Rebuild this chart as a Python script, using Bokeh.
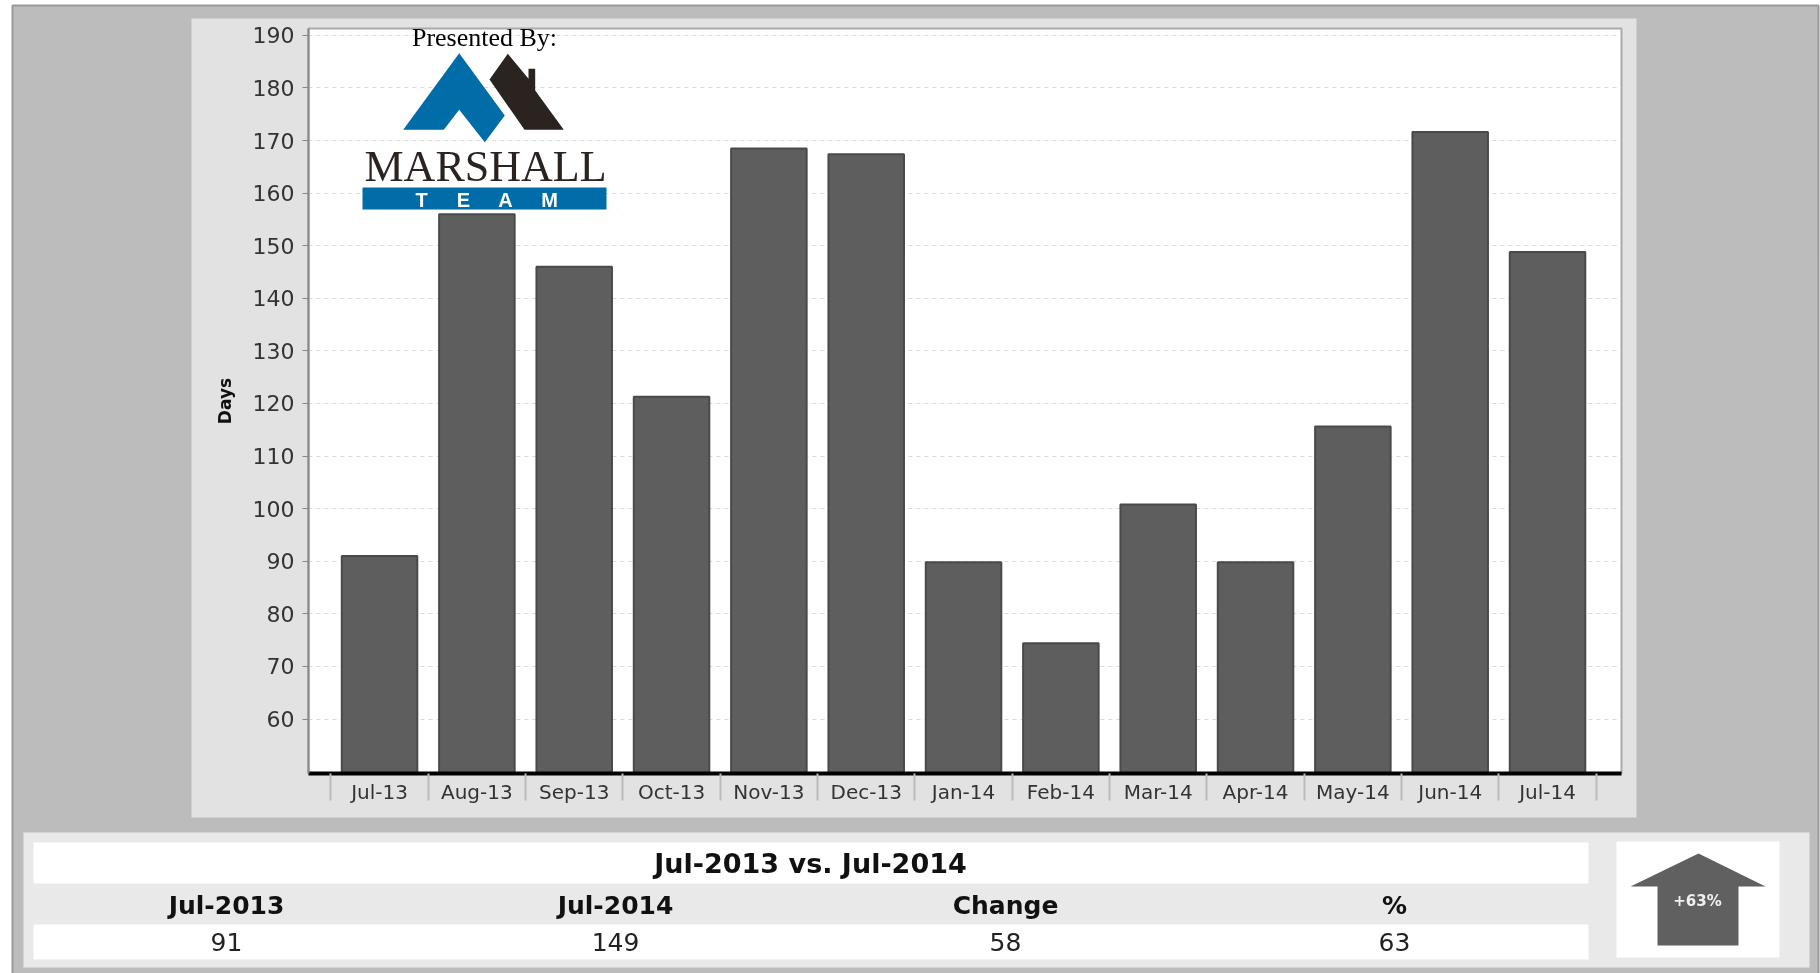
from bokeh.plotting import figure
from bokeh.models import BoxAnnotation, Label, PolyAnnotation, FixedTicker, Range1d
from bokeh.embed import file_html
from bokeh.resources import INLINE

# ---------- data ----------
months = ["Jul-13", "Aug-13", "Sep-13", "Oct-13", "Nov-13", "Dec-13", "Jan-14",
          "Feb-14", "Mar-14", "Apr-14", "May-14", "Jun-14", "Jul-14"]
days = [91, 156, 146, 121.3, 168.5, 167.4, 89.8, 74.4, 100.8, 89.8, 115.6, 171.6, 148.8]
y_ticks = [60, 70, 80, 90, 100, 110, 120, 130, 140, 150, 160, 170, 180, 190]
table_title = "Jul-2013 vs. Jul-2014"
table_headers = ["Jul-2013", "Jul-2014", "Change", "%"]
table_values = ["91", "149", "58", "63"]
badge = "+63%"

W, H = 1820, 973
PX_L, PX_R, PX_T, PX_B = 308, 1621, 28, 773   # plot frame in page pixels
SANS = "DejaVu Sans"
SERIF = "Liberation Serif"
FIXED = {"position": "fixed", "left": "0px", "top": "0px"}

# ---------- back layer: page panels, table and badge, in page pixels ----------
bg = figure(width=W, height=H, output_backend="svg", toolbar_location=None,
            x_range=Range1d(0, W), y_range=Range1d(H, 0),
            x_axis_location=None, y_axis_location=None,
            min_border=0, outline_line_color=None,
            background_fill_color="#ffffff", border_fill_color="#ffffff")
bg.grid.visible = False
bg.styles = dict(FIXED)


def bg_box(l, t, r, b, fill, line=None, lw=1):
    bg.quad(left=[l], right=[r], top=[t], bottom=[b], fill_color=fill,
            line_color=line, line_width=lw)


def bg_text(x, y, s, size, color="#111111", style="normal"):
    bg.add_layout(Label(x=x, y=y, text=s, text_font=SANS,
                        text_font_size=f"{size}px", text_font_style=style,
                        text_color=color, text_align="center",
                        text_baseline="middle"))


bg_box(12, 5, 1818, 975, "#bcbcbc", "#999999", 2)
bg_box(191, 18, 1636, 817, "#e2e2e2")
bg_box(PX_L, PX_T, PX_R, PX_B, "#ffffff")
bg_box(23, 832, 1809, 967, "#e9e9e9")
bg_box(33, 842, 1588, 883, "#ffffff")
bg_box(33, 924, 1588, 959, "#ffffff")
bg_box(1616, 841, 1779, 957, "#ffffff")

bg_text(810, 863, table_title, 27, style="bold")
for cx, head, val in zip([226, 615, 1005, 1394], table_headers, table_values):
    bg_text(cx, 905, head, 25, style="bold")
    bg_text(cx, 941, val, 25, "#222222")

bg.patch(x=[1698, 1630, 1657, 1657, 1738, 1738, 1765],
         y=[853, 886, 886, 945, 945, 886, 886], fill_color="#606060", line_color=None)
bg_text(1697, 900, badge, 15, "#f0f0f0", "bold")

# ---------- chart layer ----------
positions = list(range(len(months)))
p = figure(width=W, height=H, output_backend="svg", toolbar_location=None,
           x_range=Range1d(-0.73, 12.76), y_range=Range1d(49.64, 191.3),
           min_border_left=PX_L, min_border_right=W - PX_R,
           min_border_top=PX_T, min_border_bottom=H - PX_B,
           background_fill_color=None, border_fill_color=None,
           outline_line_color="#aaaaaa", outline_line_width=2)
p.styles = dict(FIXED)


# screen units here run from the frame's lower-left corner, y upwards
def sx(x):
    return x - PX_L


def sy(y):
    return PX_B - y


def text(x, y, s, size, color, font, style="normal"):
    p.add_layout(Label(x=sx(x), y=sy(y), x_units="screen", y_units="screen", text=s,
                       text_font=font, text_font_size=f"{size}px",
                       text_font_style=style, text_color=color,
                       text_align="center", text_baseline="middle"))


def poly(pts, color):
    p.add_layout(PolyAnnotation(xs=[sx(a) for a, _ in pts], ys=[sy(b) for _, b in pts],
                                xs_units="screen", ys_units="screen",
                                fill_color=color, fill_alpha=1, line_color=None))


# bars
p.vbar(x=positions, top=days, width=0.776, bottom=0,
       fill_color="#5e5e5e", line_color="#4a4a4a", line_width=2)

# grid
p.xgrid.visible = False
p.ygrid.ticker = FixedTicker(ticks=y_ticks)
p.ygrid.grid_line_color = "#d8d8d8"
p.ygrid.grid_line_dash = "4 4"
p.ygrid.grid_line_width = 1

# y axis
ya = p.yaxis[0]
ya.ticker = FixedTicker(ticks=y_ticks)
ya.axis_label = "Days"
ya.axis_label_text_font = SANS
ya.axis_label_text_font_size = "17px"
ya.axis_label_text_font_style = "bold"
ya.axis_label_text_color = "#111111"
ya.axis_label_standoff = 15
ya.major_label_text_font = SANS
ya.major_label_text_font_size = "22px"
ya.major_label_text_color = "#333333"
ya.major_label_standoff = 8
ya.major_tick_in = 0
ya.major_tick_out = 6
ya.minor_tick_line_color = None
ya.major_tick_line_color = "#888888"
ya.axis_line_color = "#888888"
ya.axis_line_width = 2

# x axis: labels at bar centres, separators between bars
xa = p.xaxis[0]
edges = [i - 0.5 for i in positions] + [positions[-1] + 0.5]
xa.ticker = FixedTicker(ticks=positions, minor_ticks=edges)
xa.major_label_overrides = {i: m for i, m in zip(positions, months)}
xa.major_label_text_font = SANS
xa.major_label_text_font_size = "20px"
xa.major_label_text_color = "#333333"
xa.major_label_standoff = -21
xa.major_tick_line_color = None
xa.major_tick_in = 0
xa.major_tick_out = 0
xa.minor_tick_line_color = "#bbbbbb"
xa.minor_tick_line_width = 2
xa.minor_tick_in = 0
xa.minor_tick_out = 27
xa.axis_line_color = "#000000"
xa.axis_line_width = 4

# logo
text(484, 37, "Presented By:", 26, "#000000", SERIF)
poly([(458.7, 52.7), (402.7, 129.3), (443.3, 129.3), (458.7, 109.3),
      (484.3, 141.7), (504.3, 115)], "#006ca8")
poly([(507.3, 53.3), (489, 79), (524, 129.3), (563.3, 129.3), (534.7, 90),
      (534.7, 68.3), (528, 68.3), (528, 78.3)], "#2a2320")
text(485, 166, "MARSHALL", 44, "#2a2320", SERIF)
p.add_layout(BoxAnnotation(left=sx(362), right=sx(606), top=sy(187), bottom=sy(209),
                           left_units="screen", right_units="screen",
                           top_units="screen", bottom_units="screen",
                           fill_color="#006ca8", fill_alpha=1, line_color=None,
                           level="annotation", editable=False))
for lx, letter in zip([421, 463, 505, 549], "TEAM"):
    text(lx, 199, letter, 20, "#ffffff", "Liberation Sans", "bold")

open("out.html", "w").write(file_html([bg, p], INLINE))
